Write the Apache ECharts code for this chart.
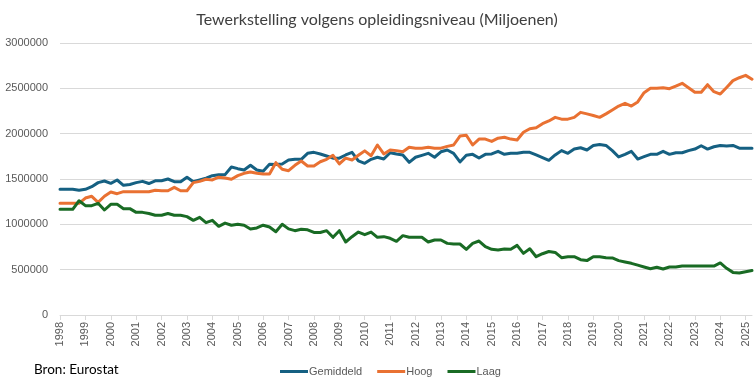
<!DOCTYPE html>
<html>
<head>
<meta charset="utf-8">
<script src="https://cdn.jsdelivr.net/npm/echarts@6/dist/echarts.min.js"></script>
<style>
html,body{margin:0;padding:0;background:#fff;}
#chart{width:754px;height:388px;}
</style>
</head>
<body>
<div id="chart"></div>
<script>
const startYear = 1998;
const quarterCount = 110; // 1998Q1 .. 2025Q2
const categories = [];
for (let i = 0; i < quarterCount; i++) {
  categories.push((startYear + Math.floor(i / 4)) + 'Q' + (i % 4 + 1));
}

const gemiddeld = [
  1386000,1386000,1386000,1375000,1386000,1415000,1460000,1478000,1452000,1489000,
  1430000,1440000,1460000,1474000,1450000,1480000,1480000,1500000,1470000,1470000,
  1520000,1470000,1490000,1510000,1537000,1548000,1548000,1632000,1614000,1600000,
  1651000,1600000,1585000,1662000,1660000,1666000,1709000,1717000,1717000,1783000,
  1794000,1776000,1754000,1730000,1730000,1765000,1794000,1700000,1673000,1717000,
  1740000,1720000,1790000,1776000,1765000,1684000,1740000,1761000,1783000,1740000,
  1800000,1820000,1783000,1688000,1761000,1772000,1732000,1772000,1776000,1805000,
  1772000,1783000,1783000,1794000,1794000,1765000,1736000,1706000,1765000,1813000,
  1783000,1830000,1845000,1820000,1870000,1880000,1870000,1813000,1743000,1772000,
  1805000,1720000,1746000,1772000,1772000,1805000,1772000,1790000,1790000,1813000,
  1830000,1867000,1830000,1856000,1870000,1863000,1870000,1840000,1840000,1840000
];

const hoog = [
  1232000,1232000,1232000,1232000,1290000,1309000,1243000,1310000,1357000,1338000,
  1360000,1360000,1360000,1360000,1360000,1375000,1370000,1370000,1408000,1370000,
  1370000,1460000,1474000,1497000,1490000,1520000,1510000,1497000,1537000,1563000,
  1577000,1563000,1555000,1555000,1680000,1607000,1592000,1651000,1698000,1644000,
  1644000,1690000,1717000,1761000,1666000,1730000,1710000,1761000,1810000,1757000,
  1875000,1776000,1820000,1813000,1800000,1850000,1840000,1840000,1850000,1840000,
  1840000,1860000,1875000,1974000,1982000,1875000,1940000,1940000,1915000,1950000,
  1960000,1940000,1930000,2015000,2055000,2066000,2110000,2140000,2180000,2160000,
  2160000,2180000,2235000,2218000,2200000,2180000,2218000,2261000,2305000,2335000,
  2305000,2350000,2452000,2500000,2500000,2507000,2496000,2525000,2555000,2507000,
  2456000,2456000,2540000,2463000,2437000,2510000,2585000,2617000,2643000,2600000
];

const laag = [
  1165000,1165000,1165000,1260000,1206000,1206000,1232000,1158000,1221000,1221000,
  1173000,1173000,1132000,1132000,1120000,1100000,1100000,1120000,1100000,1100000,
  1085000,1044000,1077000,1018000,1044000,978000,1014000,990000,1000000,990000,
  948000,960000,990000,970000,919000,1000000,950000,930000,945000,940000,
  910000,910000,930000,857000,930000,805000,864000,915000,886000,915000,
  857000,864000,846000,813000,875000,857000,857000,857000,805000,827000,
  827000,790000,783000,783000,724000,790000,816000,754000,724000,717000,
  728000,725000,768000,680000,730000,643000,676000,700000,690000,632000,
  643000,643000,610000,600000,643000,643000,632000,630000,600000,585000,
  570000,550000,530000,510000,526000,507000,529000,529000,540000,540000,
  540000,540000,540000,540000,574000,515000,470000,463000,478000,490000
];

const yTicks = { min: 0, max: 3000000, interval: 500000 };
const seriesNames = ['Gemiddeld', 'Hoog', 'Laag'];
const colors = ['#156082', '#E97132', '#196B24'];

const chart = echarts.init(document.getElementById('chart'), null, { renderer: 'canvas' });
const axisFont = 'Liberation Sans, Arial, sans-serif';

chart.setOption({
  animation: false,
  backgroundColor: '#ffffff',
  color: colors,
  title: {
    text: 'Tewerkstelling volgens opleidingsniveau (Miljoenen)',
    left: 'center',
    top: 7,
    textStyle: { fontFamily: 'Lato, sans-serif', fontSize: 16, fontWeight: 'normal', color: '#404040' }
  },
  grid: { left: 60, right: 2, top: 43, bottom: 73, outerBoundsMode: 'none' },
  legend: {
    data: seriesNames,
    left: 275,
    top: 361,
    icon: 'rect',
    itemWidth: 28,
    itemHeight: 3,
    itemGap: 15,
    textStyle: { fontFamily: axisFont, fontSize: 11, color: '#595959', padding: [0, 0, 0, -4] }
  },
  graphic: [{
    type: 'text',
    left: 34,
    top: 363,
    style: { text: 'Bron: Eurostat', font: '13.5px Lato, sans-serif', fill: '#000000' }
  }],
  xAxis: {
    type: 'category',
    data: categories,
    boundaryGap: false,
    axisLine: { lineStyle: { color: '#d9d9d9', width: 1 } },
    axisTick: { show: true, interval: (i) => i % 4 === 0, length: 5, lineStyle: { color: '#d9d9d9' } },
    axisLabel: {
      interval: (i) => i % 4 === 0,
      rotate: 90,
      margin: 7,
      color: '#595959',
      fontFamily: axisFont,
      fontSize: 11,
      formatter: (v) => v.slice(0, 4)
    },
    splitLine: { show: false }
  },
  yAxis: {
    type: 'value',
    min: yTicks.min,
    max: yTicks.max,
    interval: yTicks.interval,
    axisLine: { show: false },
    axisTick: { show: false },
    axisLabel: { color: '#595959', fontFamily: axisFont, fontSize: 11, margin: 12, formatter: (v) => String(v) },
    splitLine: { lineStyle: { color: '#d9d9d9', width: 1 } }
  },
  series: [
    { name: seriesNames[0], type: 'line', data: gemiddeld, showSymbol: false, lineStyle: { width: 3, join: 'round', cap: 'round' } },
    { name: seriesNames[1], type: 'line', data: hoog, showSymbol: false, lineStyle: { width: 3, join: 'round', cap: 'round' } },
    { name: seriesNames[2], type: 'line', data: laag, showSymbol: false, lineStyle: { width: 3, join: 'round', cap: 'round' } }
  ]
});
</script>
</body>
</html>
